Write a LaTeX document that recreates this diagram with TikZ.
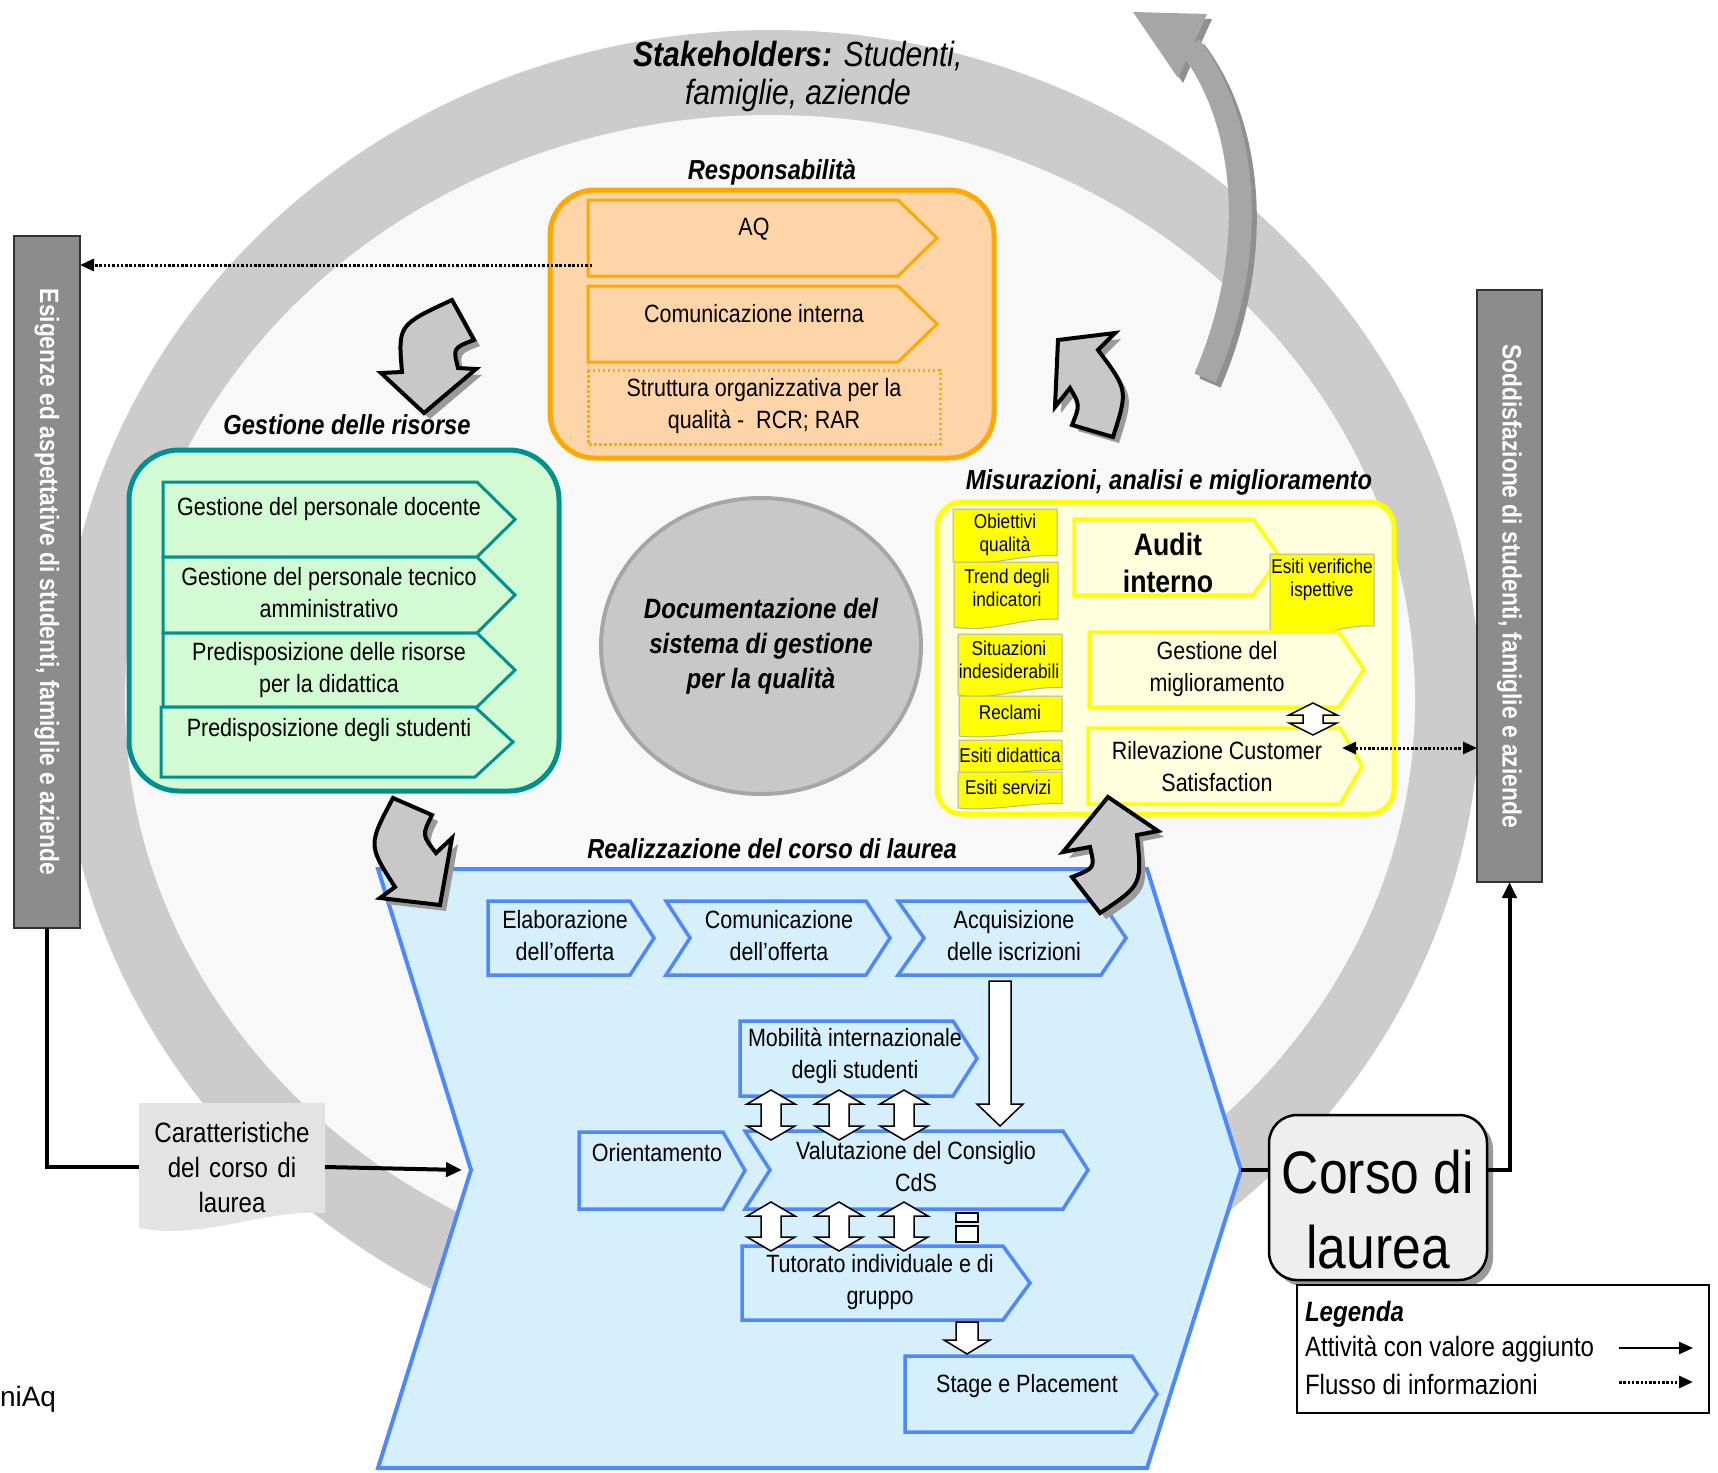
\documentclass[tikz,border=0pt]{standalone}
\usepackage{fontspec}
\setmainfont{Liberation Sans}[FakeStretch=0.86]
\newfontfamily\widefont{Liberation Sans}
\usetikzlibrary{arrows.meta,shapes.geometric}
\definecolor{ringgrey}{HTML}{CCCCCC}
\definecolor{innerbg}{HTML}{F8F8F8}
\definecolor{bargrey}{HTML}{8C8C8C}
\definecolor{orangeln}{HTML}{FFA800}
\definecolor{orangefl}{HTML}{FDD5A8}
\definecolor{tealln}{HTML}{009090}
\definecolor{greenfl}{HTML}{D3FBD3}
\definecolor{yellowln}{HTML}{FFFF00}
\definecolor{yellowfl}{HTML}{FFFFDD}
\definecolor{blueln}{HTML}{4D88FF}
\definecolor{bluefl}{HTML}{D5EFFD}
\definecolor{circfl}{HTML}{C8C8C8}
\definecolor{circln}{HTML}{A6A6A6}
\definecolor{bigarr}{HTML}{A6A6A6}
\definecolor{bigarrsh}{HTML}{8F8F8F}
\definecolor{blockfl}{HTML}{C8C8C8}
\definecolor{shadowgr}{HTML}{9A9A9A}
\definecolor{docgr}{HTML}{E3E3E3}
\definecolor{corsofl}{HTML}{EEEEEE}

\newcommand\fsz[2]{\fontsize{#1}{#2}\selectfont}
\newcommand\pentshape[6]{\path[#1] (#2,#3) -- (#6,#3) -- (#4,{(#3+#5)/2}) -- (#6,#5) -- (#2,#5) -- cycle;}
\newcommand\chevshape[7]{\path[#1] (#2,#3) -- (#6,#3) -- (#4,{(#3+#5)/2}) -- (#6,#5) -- (#2,#5) -- (#7,{(#3+#5)/2}) -- cycle;}
\newcommand\docshp[5]{\path[#1] (#2,#3) -- (#4,#3) -- (#4,{#5-0.12*(#5-#3)}) .. controls ({#2+0.65*(#4-#2)},{#5-0.15*(#5-#3)}) and ({#2+0.35*(#4-#2)},{#5+0.1*(#5-#3)}) .. (#2,#5) -- cycle;}
\newcommand\dblarr[4]{\path[whitearr] (#1,#2) -- ({#1+24},{#2+#4}) -- ({#1+10},{#2+#4}) -- ({#1+10},{#3-#4}) -- ({#1+24},{#3-#4}) -- (#1,#3) -- ({#1-24},{#3-#4}) -- ({#1-10},{#3-#4}) -- ({#1-10},{#2+#4}) -- ({#1-24},{#2+#4}) -- cycle;}
\newcommand\dnarr[6]{\path[whitearr] ({#1-#4},#2) -- ({#1+#4},#2) -- ({#1+#4},{#3-#6}) -- ({#1+#5},{#3-#6}) -- (#1,#3) -- ({#1-#5},{#3-#6}) -- ({#1-#4},{#3-#6}) -- cycle;}
\newcommand\barrow[1]{\fill[shadowgr,xshift=6pt,yshift=-6pt] #1; \filldraw[blockarr] #1;}

\begin{document}
\begin{tikzpicture}[x=1pt,y=-1pt,
  every node/.style={inner sep=0pt, outer sep=0pt, align=center, font=\fsz{25}{32}},
  hdr/.style={font=\fsz{27.5}{32}\bfseries\itshape},
  small/.style={font=\fsz{20}{23}},
  blockarr/.style={fill=blockfl, draw=black, line width=4, line join=miter},
  whitearr/.style={fill=white, draw=black, line width=1.5},
  solidarr/.style={line width=4, -{Triangle[length=16pt,width=14pt]}},
  dotline/.style={line width=3, dash pattern=on 2.5pt off 1.8pt},
  orp/.style={draw=orangeln, fill=orangefl, line width=3},
  grp/.style={draw=tealln, fill=greenfl, line width=3},
  yep/.style={draw=yellowln, fill=yellowfl, line width=3.5},
  blp/.style={draw=blueln, fill=bluefl, line width=3.5},
  ydoc/.style={draw=black!30, fill=yellowln, line width=1}]
\useasboundingbox (0,0) rectangle (1718,1472);

% ring
\fill[ringgrey] (770,700) ellipse [x radius=710pt, y radius=670pt];
\fill[innerbg] (770,700) ellipse [x radius=645pt, y radius=585pt];

% big grey arrow
\begin{scope}[xshift=5pt,yshift=-5pt]
  \draw[bigarrsh, line width=23] (1205,378) .. controls (1258,255) and (1250,125) .. (1190,46);
  \fill[bigarrsh] (1133,12) -- (1207,14) -- (1178,78) -- cycle;
\end{scope}
\draw[bigarr, line width=23] (1205,378) .. controls (1258,255) and (1250,125) .. (1190,46);
\fill[bigarr] (1133,12) -- (1207,14) -- (1178,78) -- cycle;

% side bars
\node[fill=bargrey, draw=black!80, line width=1.5, minimum width=66, minimum height=692] (lbar) at (47,582) {};
\node[rotate=-90, text=white, font=\fsz{26.5}{30}\bfseries] (ltext) at (lbar.center) {Esigenze ed aspettative di studenti, famiglie e aziende};
\node[fill=bargrey, draw=black!80, line width=1.5, minimum width=65, minimum height=592] (rbar) at (1509.5,586) {};
\node[rotate=-90, text=white, font=\fsz{26.5}{30}\bfseries] (rtext) at (rbar.center) {Soddisfazione di studenti, famiglie e aziende};

% Responsabilita
\node[draw=orangeln, fill=orangefl, line width=5, rounded corners=45, minimum width=444, minimum height=268] (resp) at (772,324) {};
\pentshape{orp}{588}{200}{937}{276}{898}
\pentshape{orp}{588}{286}{937}{362}{898}
\draw[orangeln, line width=3, dash pattern=on 2.5pt off 2.5pt] (588,370) rectangle (940,444);
\node (aq) at (754,229) {AQ};
\node (comint) at (754,314) {Comunicazione interna};
\node (strutt) at (764,406) {Struttura organizzativa per la\\qualità -\ \ RCR; RAR};

% Gestione risorse
\node[draw=tealln, fill=greenfl, line width=5, rounded corners=50, minimum width=430, minimum height=341] (grn) at (344,620.5) {};
\pentshape{grp}{163}{482}{515}{557}{477}
\pentshape{grp}{163}{557}{515}{633}{477}
\pentshape{grp}{163}{633}{515}{707}{477}
\pentshape{grp}{161}{707}{513}{777}{475}
\node (gdoc) at (329,509) {Gestione del personale docente};
\node (gtec) at (329,593) {Gestione del personale tecnico\\amministrativo};
\node (gris) at (329,670) {Predisposizione delle risorse\\per la didattica};
\node (gstu) at (329,730) {Predisposizione degli studenti};

% Documentazione
\node[ellipse, draw=circln, fill=circfl, line width=4, minimum width=320, minimum height=296] (docsys) at (761,646) {};
\node[font=\fsz{28}{35}\bfseries\itshape] (doctxt) at (761,646) {Documentazione del\\sistema di gestione\\per la qualità};

% Misurazioni
\node[draw=yellowln, fill=yellowfl, line width=5, rounded corners=25, minimum width=457, minimum height=312] (yel) at (1165.5,658) {};
\docshp{ydoc}{953}{509}{1057}{562}
\docshp{ydoc}{954}{562}{1058}{627}
\docshp{ydoc}{958}{634}{1062}{695}
\docshp{ydoc}{959}{696}{1062}{736}
\docshp{ydoc}{959}{740}{1062}{774}
\docshp{ydoc}{958}{772}{1062}{808}
\pentshape{yep}{1074}{519}{1280}{595}{1253}
\docshp{ydoc}{1270}{554}{1374}{636}
\pentshape{yep}{1089}{632}{1364}{707}{1339}
\pentshape{yep}{1088}{728}{1362}{804}{1340}
\dblarr{1313}{703}{735}{12}
\node[small] (obq) at (1005,535) {Obiettivi\\qualità};
\node[small] (trend) at (1007,588) {Trend degli\\indicatori};
\node[small] (situ) at (1009,660) {Situazioni\\indesiderabili};
\node[small] (recl) at (1010,712) {Reclami};
\node[small] (esdid) at (1010,755) {Esiti didattica};
\node[small] (esserv) at (1008,787) {Esiti servizi};
\node[small] (esver) at (1322,580) {Esiti verifiche\\ispettive};
\node[font=\fsz{31}{37}\bfseries] (audit) at (1168,563) {Audit\\interno};
\node (gmig) at (1217,669) {Gestione del\\miglioramento};
\node (rilev) at (1217,767) {Rilevazione Customer\\Satisfaction};

% Realizzazione
\path[draw=blueln, fill=bluefl, line width=4] (378,869) -- (1147,869) -- (1241,1170) -- (1147,1468) -- (378,1468) -- (471,1170) -- cycle;
\coordinate (bnotch) at (471,1170);
\coordinate (btip) at (1241,1170);
\pentshape{blp}{488}{901}{654}{975}{630}
\chevshape{blp}{666}{901}{890}{975}{866}{690}
\chevshape{blp}{898}{901}{1126}{975}{1101}{924}
\pentshape{blp}{740}{1021}{977}{1096}{953}
\pentshape{blp}{579}{1132}{745}{1209}{723}
\chevshape{blp}{745}{1131}{1088}{1209}{1063}{770}
\pentshape{blp}{742}{1246}{1030}{1320}{1003}
\pentshape{blp}{905}{1356}{1157}{1432}{1132}
\node (elab) at (565,936) {Elaborazione\\dell’offerta};
\node (comoff) at (779,936) {Comunicazione\\dell’offerta};
\node (acq) at (1014,936) {Acquisizione\\delle iscrizioni};
\node (mob) at (855,1056) {Mobilità internazionale\\degli studenti};
\node (orient) at (657,1153) {Orientamento};
\node (valut) at (916,1167) {Valutazione del Consiglio\\CdS};
\node (tutor) at (880,1282) {Tutorato individuale e di\\gruppo};
\node (stage) at (1027,1386) {Stage e Placement};
\dnarr{1000}{981}{1126}{11}{23}{22}
\dblarr{771}{1090}{1140}{14}
\dblarr{839}{1090}{1140}{14}
\dblarr{904}{1090}{1140}{14}
\dblarr{771}{1202}{1251}{14}
\dblarr{839}{1202}{1251}{14}
\dblarr{904}{1202}{1251}{14}
\draw[whitearr] (956,1213) rectangle (978,1222);
\draw[whitearr] (956,1226) rectangle (978,1242);
\dnarr{967}{1322}{1354}{11}{23}{14}

% curved block arrows
\barrow{(452,300) -- (474,340) .. controls (453,348) .. (458,368) -- (476,369) -- (424,413) -- (381,373) -- (402,372) .. controls (398,325) .. (452,300) -- cycle}
\barrow{(1058,340) -- (1115,333) -- (1098,350) .. controls (1128,390) .. (1113,437) -- (1072,425) .. controls (1080,405) .. (1070,388) -- (1055,407) -- cycle}
\barrow{(393,798) -- (432,815) .. controls (422,835) .. (436,853) -- (452,838) -- (440,905) -- (380,898) -- (395,887) .. controls (368,845) .. (393,798) -- cycle}
\barrow{(1108,797) -- (1158,831) -- (1137,835) .. controls (1142,885) .. (1100,913) -- (1072,877) .. controls (1095,868) .. (1090,847) -- (1063,852) -- cycle}

% headers
\node[font=\fsz{35}{38}\itshape] (stake) at (798,76) {\textbf{Stakeholders:} Studenti,\\famiglie, aziende};
\node[hdr] (resph) at (772,172) {Responsabilità};
\node[hdr] (gesth) at (347,425) {Gestione delle risorse};
\node[hdr] (mish) at (1169,482) {Misurazioni, analisi e miglioramento};
\node[hdr] (realh) at (772,849) {Realizzazione del corso di laurea};

% Caratteristiche
\docshp{fill=docgr}{139}{1103}{325}{1228}
\node[text width=186, font=\fsz{28}{35}] (car) at (232,1167) {Caratteristiche\\del corso di\\laurea};
\draw[line width=4] (lbar.south) |- (car.west);
\draw[solidarr] (car.east) -- ([xshift=-9pt]bnotch);

% Corso di laurea
\fill[shadowgr, rounded corners=28] (1275,1121) rectangle (1493,1286);
\node[draw=black, line width=2.5, fill=corsofl, rounded corners=28, minimum width=218, minimum height=165] (corso) at (1378,1197.5) {};
\node[font=\fsz{60}{75}] (corsotxt) at (1378,1210) {Corso di\\laurea};
\draw[line width=4] (btip) -- (btip -| corso.west);
\draw[solidarr] (corso.east |- btip) -| (rbar.south);

% dotted flows
\coordinate (aqs) at (592,265);
\draw[dotline, -{Triangle[length=14pt,width=12pt]}] (aqs) -- (aqs -| lbar.east);
\coordinate (rilc) at (1342,748);
\draw[dotline, {Triangle[length=14pt,width=12pt]}-{Triangle[length=14pt,width=12pt]}] (rilc) -- (rilc -| rbar.west);

% legend
\node[draw=black, line width=1.2, fill=white, minimum width=412, minimum height=128] (leg) at (1503,1349) {};
\node[anchor=west, font=\fsz{28}{32}\bfseries\itshape] (legt) at (1305,1314) {Legenda};
\node[anchor=west, font=\fsz{28}{32}] (leg1) at (1305,1349) {Attività con valore aggiunto};
\node[anchor=west, font=\fsz{28}{32}] (leg2) at (1305,1384) {Flusso di informazioni};
\coordinate (l1a) at (1619,1348); \coordinate (l1b) at (1693,1348);
\coordinate (l2a) at (1619,1382); \coordinate (l2b) at (1693,1382);
\draw[line width=2.5, -{Triangle[length=14pt,width=12pt]}] (l1a) -- (l1b);
\draw[dotline, -{Triangle[length=14pt,width=12pt]}] (l2a) -- (l2b);

\node[anchor=west, font=\widefont\fsz{28}{32}] (uniaq) at (0,1399) {niAq};
\end{tikzpicture}
\end{document}
